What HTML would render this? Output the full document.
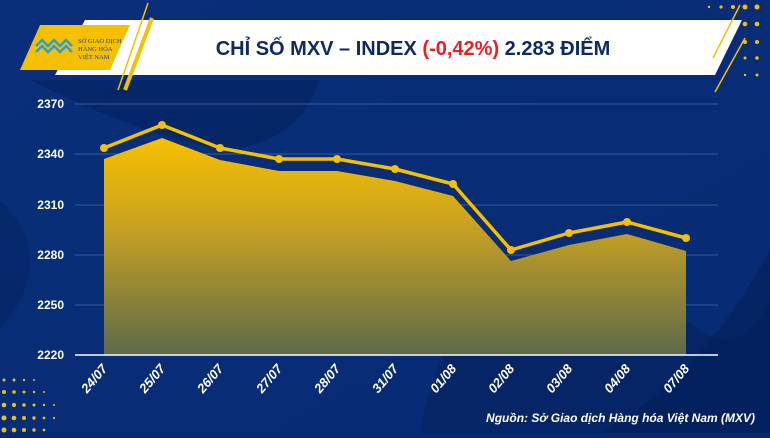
<!DOCTYPE html>
<html><head><meta charset="utf-8"><style>
body{margin:0;width:770px;height:433px;overflow:hidden;background:#062a72;font-family:"Liberation Sans",sans-serif}
</style></head><body>
<svg width="770" height="433" viewBox="0 0 770 433" xmlns="http://www.w3.org/2000/svg">
<defs>
<linearGradient id="bg" x1="0" y1="0" x2="1" y2="1"><stop offset="0" stop-color="#0a2f7a"/><stop offset="1" stop-color="#062a72"/></linearGradient>
<linearGradient id="ar" x1="0" y1="0" x2="0" y2="1"><stop offset="0" stop-color="#f7c000"/><stop offset="0.4" stop-color="#c9a222"/><stop offset="1" stop-color="#5c6a4a"/></linearGradient>
</defs>
<rect width="770" height="433" fill="url(#bg)"/>
<path d="M30 80 Q150 140 230 150 Q300 140 320 80 Z" fill="#04235f" opacity="0.6"/>
<path d="M0 200 Q60 260 0 330 Z" fill="#04235f" opacity="0.5"/>
<path d="M420 433 Q440 300 540 290 Q640 290 700 330 Q740 360 770 300 L770 433 Z" fill="#052462" opacity="0.7"/>
<path d="M600 433 Q700 380 770 250 L770 433Z" fill="#03205a" opacity="0.6"/>
<g fill="#f5c000">
<circle cx="4" cy="380" r="1.5"/><circle cx="14" cy="380" r="1.5"/><circle cx="24" cy="380" r="1.2"/><circle cx="34" cy="380" r="1"/>
<circle cx="4" cy="392" r="2"/><circle cx="14" cy="392" r="1.8"/><circle cx="24" cy="392" r="1.5"/><circle cx="34" cy="392" r="1.2"/><circle cx="44" cy="392" r="1"/>
<circle cx="4" cy="405" r="2.3"/><circle cx="14" cy="405" r="2.1"/><circle cx="24" cy="405" r="1.8"/><circle cx="34" cy="405" r="1.5"/><circle cx="44" cy="405" r="1.2"/><circle cx="54" cy="405" r="1"/>
<circle cx="4" cy="418" r="2.5"/><circle cx="14" cy="418" r="2.3"/><circle cx="24" cy="418" r="2"/><circle cx="34" cy="418" r="1.7"/><circle cx="44" cy="418" r="1.4"/><circle cx="54" cy="418" r="1.1"/>
<circle cx="4" cy="430" r="2.5"/><circle cx="14" cy="430" r="2.3"/><circle cx="24" cy="430" r="2"/><circle cx="34" cy="430" r="1.7"/><circle cx="44" cy="430" r="1.4"/>
<circle cx="745" cy="7" r="2.5"/><circle cx="757" cy="7" r="2.5"/><circle cx="733" cy="7" r="2"/><circle cx="721" cy="7" r="1.6"/><circle cx="709" cy="7" r="1.2"/>
<circle cx="745" cy="24" r="2.3"/><circle cx="757" cy="24" r="2.3"/><circle cx="733" cy="24" r="1.8"/>
<circle cx="745" cy="42" r="2"/><circle cx="757" cy="42" r="2"/><circle cx="757" cy="58" r="1.8"/><circle cx="745" cy="58" r="1.5"/><circle cx="757" cy="75" r="1.5"/><circle cx="745" cy="75" r="1.2"/>
</g>
<polygon points="85,20 742,20 715,75 55,75" fill="#ffffff"/>
<polygon points="40,25 130,25 110,70 20,70" fill="#f5c000"/>
<text x="78" y="43" font-size="6.5" fill="#1d3f8a" font-family="Liberation Serif,serif">SỞ GIAO DỊCH</text>
<text x="78" y="51" font-size="6.5" fill="#1d3f8a" font-family="Liberation Serif,serif">HÀNG HÓA</text>
<text x="78" y="59" font-size="6.5" fill="#1d3f8a" font-family="Liberation Serif,serif">VIỆT NAM</text>
<path d="M36 46 l6 -6 l6 6 l6 -6 l6 6 l6 -6 l6 6 M36 52 l6 -6 l6 6 l6 -6 l6 6 l6 -6 l6 6" stroke="#2a9fd6" stroke-width="2.5" fill="none"/>
<line x1="148" y1="3" x2="118" y2="90" stroke="#f5c000" stroke-width="1.5"/>
<line x1="152" y1="18" x2="125" y2="90" stroke="#f5c000" stroke-width="4"/>
<line x1="740" y1="5" x2="713" y2="58" stroke="#f5c000" stroke-width="1.5"/>
<line x1="745" y1="38" x2="715" y2="92" stroke="#f5c000" stroke-width="1.5"/>
<text x="413" y="55" font-size="20" font-weight="bold" fill="#0d2a66" text-anchor="middle">CHỈ SỐ MXV – INDEX <tspan fill="#ee1c24">(-0,42%)</tspan> 2.283 ĐIỂM</text>
<g stroke="#5f77ad" stroke-width="0.8" opacity="0.8">
<line x1="75" y1="104" x2="718" y2="104"/><line x1="75" y1="154" x2="718" y2="154"/><line x1="75" y1="205" x2="718" y2="205"/><line x1="75" y1="255" x2="718" y2="255"/><line x1="75" y1="305" x2="718" y2="305"/>
</g>
<g font-size="12" font-weight="bold" fill="#ffffff" text-anchor="end">
<text x="64" y="108">2370</text><text x="64" y="158">2340</text><text x="64" y="209">2310</text><text x="64" y="259">2280</text><text x="64" y="309">2250</text><text x="64" y="359">2220</text>
</g>
<polygon points="104,159 162,138 220,160 279,171 337,171 395,181 453,196 511,261 569,245 627,234 686,251 686,355 104,355" fill="url(#ar)"/>
<line x1="75" y1="355" x2="718" y2="355" stroke="#ffffff" stroke-width="1.5"/>
<polyline points="104,148 162,125 220,148 279,159 337,159 395,169 453,184 511,250 569,233 627,222 686,238" fill="none" stroke="#f5c000" stroke-width="3.5" stroke-linejoin="round"/>
<g fill="#f5c000">
<circle cx="104" cy="148" r="4"/><circle cx="162" cy="125" r="4"/><circle cx="220" cy="148" r="4"/><circle cx="279" cy="159" r="4"/><circle cx="337" cy="159" r="4"/><circle cx="395" cy="169" r="4"/><circle cx="453" cy="184" r="4"/><circle cx="511" cy="250" r="4"/><circle cx="569" cy="233" r="4"/><circle cx="627" cy="222" r="4"/><circle cx="686" cy="238" r="4"/>
</g>
<g font-size="13" font-weight="bold" font-style="italic" fill="#ffffff" text-anchor="end">
<text transform="translate(108,369) rotate(-50)">24/07</text>
<text transform="translate(166,369) rotate(-50)">25/07</text>
<text transform="translate(224,369) rotate(-50)">26/07</text>
<text transform="translate(283,369) rotate(-50)">27/07</text>
<text transform="translate(341,369) rotate(-50)">28/07</text>
<text transform="translate(399,369) rotate(-50)">31/07</text>
<text transform="translate(457,369) rotate(-50)">01/08</text>
<text transform="translate(515,369) rotate(-50)">02/08</text>
<text transform="translate(573,369) rotate(-50)">03/08</text>
<text transform="translate(631,369) rotate(-50)">04/08</text>
<text transform="translate(690,369) rotate(-50)">07/08</text>
</g>
<text x="755" y="422" font-size="12" font-weight="bold" font-style="italic" fill="#ffffff" text-anchor="end">Nguồn: Sở Giao dịch Hàng hóa Việt Nam (MXV)</text>
</svg>
</body></html>
